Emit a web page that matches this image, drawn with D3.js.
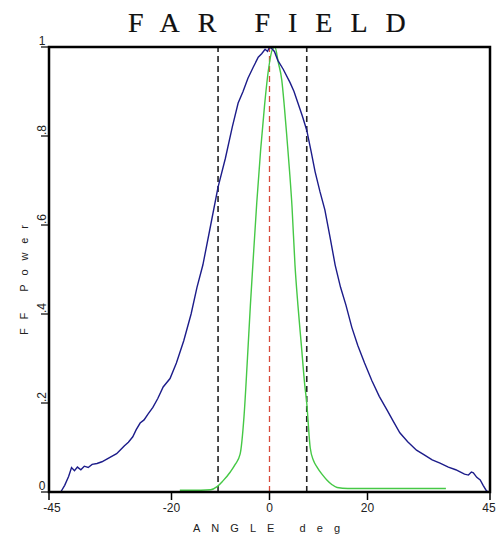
<!DOCTYPE html>
<html>
<head>
<meta charset="utf-8">
<script src="https://cdn.jsdelivr.net/npm/d3@7"></script>
<style>
  body { margin: 0; background: #fff; }
  svg { display: block; }
  .tick-label { font-family: "Liberation Sans", Arial, sans-serif; font-size: 12px; fill: #222; }
  .axis-title { font-family: "Liberation Sans", Arial, sans-serif; font-size: 11px; fill: #222; }
  .chart-title { font-family: "Liberation Serif", "DejaVu Serif", serif; font-size: 28px; fill: #111; stroke: #111; stroke-width: 0.2; letter-spacing: 18px; word-spacing: -5px; }
</style>
</head>
<body>
<div id="chart"></div>
<script>
// far field, broad beam (blue)
const blueAngle = [-42.6, -41.8, -41.0, -40.4, -39.8, -39.2, -38.5, -37.8, -37.0,
  -36.2, -35.2, -34.2, -33.2, -32.2, -31.2, -30.5, -29.6, -28.8, -27.9,
  -27.2, -26.4, -25.6, -24.8, -23.8, -22.8, -21.7, -20.3, -19, -17.5,
  -16, -14.8, -13.6, -12, -10.5, -9, -7.6, -6.4, -5.4, -4.4,
  -3.3, -2.3, -1.6, -0.9, -0.4, 0, 0.6, 1.0, 1.7, 2.8,
  4.2, 5.0, 5.8, 6.7, 7.6, 8.5, 9.3, 10.3, 11.3, 12.4,
  13.4, 14.5, 15.6, 16.8, 18, 19.4, 20.9, 22.4, 24, 25.3,
  26.6, 28.2, 30, 31.5, 33.2, 34.8, 36.5, 38, 38.9, 39.8,
  40.6, 41.2, 41.6, 42.3, 43, 43.6, 44.2, 44.6];
const blueValue = [0, 0.015, 0.035, 0.055, 0.048, 0.056, 0.05, 0.058, 0.055,
  0.062, 0.064, 0.068, 0.074, 0.08, 0.086, 0.094, 0.104, 0.112, 0.124,
  0.14, 0.155, 0.162, 0.175, 0.19, 0.21, 0.236, 0.255, 0.29, 0.34,
  0.40, 0.46, 0.51, 0.6, 0.685, 0.75, 0.82, 0.874, 0.9, 0.93,
  0.955, 0.977, 0.985, 0.995, 0.99, 1.0, 0.995, 0.99, 0.97, 0.95,
  0.92, 0.9, 0.874, 0.845, 0.813, 0.765, 0.72, 0.675, 0.634, 0.57,
  0.51, 0.46, 0.42, 0.37, 0.33, 0.29, 0.25, 0.215, 0.184, 0.158,
  0.133, 0.113, 0.094, 0.084, 0.072, 0.065, 0.056, 0.05, 0.045, 0.04,
  0.038, 0.045, 0.043, 0.033, 0.027, 0.015, 0.004, 0];

// far field, narrow beam (green)
const greenAngle = [-18.3, -14, -12, -10.7, -9.5, -8, -7, -6, -5.2, -4.5,
  -3.9, -3.4, -2.6, -1.8, -1.0, -0.2, 0.6, 1.1, 1.8, 2.5,
  3.0, 3.6, 4.1, 4.6, 5.2, 5.8, 6.5, 7.2, 7.6, 8.3,
  9.0, 9.7, 10.7, 11.7, 12.7, 13.8, 16, 25, 36];
const greenValue = [0.004, 0.004, 0.005, 0.012, 0.025, 0.045, 0.062, 0.085, 0.17, 0.3,
  0.42, 0.51, 0.65, 0.77, 0.87, 0.95, 0.995, 1.0, 0.965, 0.926,
  0.87, 0.79, 0.72, 0.64, 0.51, 0.42, 0.33, 0.24, 0.2, 0.1,
  0.07, 0.056, 0.04, 0.027, 0.017, 0.01, 0.008, 0.008, 0.008];

const markerAngles = [-10.5, 7.6];
const centerAngle = [0];

const xTicks = [-45, -20, 0, 20, 45];
const xTickLabels = ["-45", "-20", "0", "20", "45"];
const yTicks = [0, 0.2, 0.4, 0.6, 0.8, 1];
const yTickLabels = ["0", ".2", ".4", ".6", ".8", "1"];

const width = 500, height = 535;
const margin = { top: 47, right: 10, bottom: 43, left: 49 };

const svg = d3.select("#chart").append("svg")
  .attr("width", width)
  .attr("height", height);

const x = d3.scaleLinear().domain([-45, 45]).range([margin.left, width - margin.right]);
const y = d3.scaleLinear().domain([0, 1]).range([height - margin.bottom, margin.top]);

// title
svg.append("text")
  .attr("class", "chart-title")
  .attr("x", 128)
  .attr("y", 32)
  .text("FAR FIELD");

// marker lines
svg.selectAll(".marker")
  .data(markerAngles)
  .join("line")
  .attr("class", "marker")
  .attr("x1", d => x(d)).attr("x2", d => x(d))
  .attr("y1", y(0)).attr("y2", y(1))
  .attr("stroke", "#222")
  .attr("stroke-width", 1.6)
  .attr("stroke-dasharray", "6,4");

svg.selectAll(".center")
  .data(centerAngle)
  .join("line")
  .attr("class", "center")
  .attr("x1", d => x(d)).attr("x2", d => x(d))
  .attr("y1", y(0)).attr("y2", y(1))
  .attr("stroke", "#d84a3a")
  .attr("stroke-width", 1.3)
  .attr("stroke-dasharray", "6,4");

// curves
const line = d3.line().x(d => x(d[0])).y(d => y(d[1]));

svg.append("path")
  .datum(d3.zip(greenAngle, greenValue))
  .attr("fill", "none")
  .attr("stroke", "#45c845")
  .attr("stroke-width", 1.4)
  .attr("d", line.curve(d3.curveMonotoneX));

svg.append("path")
  .datum(d3.zip(blueAngle, blueValue))
  .attr("fill", "none")
  .attr("stroke", "#1c1c8a")
  .attr("stroke-width", 1.4)
  .attr("d", line.curve(d3.curveLinear));

// frame
svg.append("rect")
  .attr("x", x(-45)).attr("y", y(1))
  .attr("width", x(45) - x(-45))
  .attr("height", y(0) - y(1))
  .attr("fill", "none")
  .attr("stroke", "#000")
  .attr("stroke-width", 2.5);

// x ticks
svg.selectAll(".xtick")
  .data(xTicks)
  .join("line")
  .attr("class", "xtick")
  .attr("x1", d => x(d)).attr("x2", d => x(d))
  .attr("y1", y(0)).attr("y2", y(0) + 8)
  .attr("stroke", "#000")
  .attr("stroke-width", 1.5);

svg.selectAll(".xlabel")
  .data(xTicks)
  .join("text")
  .attr("class", "tick-label")
  .attr("x", d => x(d) + (d === -45 ? 3 : d === 45 ? -1 : 0))
  .attr("y", y(0) + 20)
  .attr("text-anchor", "middle")
  .text((d, i) => xTickLabels[i]);

// y ticks
svg.selectAll(".ytick")
  .data(yTicks)
  .join("line")
  .attr("class", "ytick")
  .attr("x1", x(-45) - 8).attr("x2", x(-45))
  .attr("y1", d => y(d)).attr("y2", d => y(d))
  .attr("stroke", "#000")
  .attr("stroke-width", 1.2);

svg.selectAll(".ylabel")
  .data(yTicks)
  .join("text")
  .attr("class", "tick-label")
  .attr("transform", (d, i) => {
    if (d === 0 || d === 1) return `translate(${x(-45) - 7},${y(d) - 2})`;
    return `translate(${x(-45) - 3},${y(d) - 1}) rotate(-90)`;
  })
  .attr("text-anchor", d => (d === 0 || d === 1) ? "middle" : "start")
  .text((d, i) => yTickLabels[i]);

// axis titles
svg.append("text")
  .attr("class", "axis-title")
  .attr("x", 193)
  .attr("y", 532)
  .attr("textLength", 147)
  .attr("lengthAdjust", "spacing")
  .text("ANGLE deg");

svg.append("text")
  .attr("class", "axis-title")
  .attr("transform", "translate(28,335) rotate(-90)")
  .attr("textLength", 110)
  .attr("lengthAdjust", "spacing")
  .text("FF Power");
</script>
</body>
</html>
